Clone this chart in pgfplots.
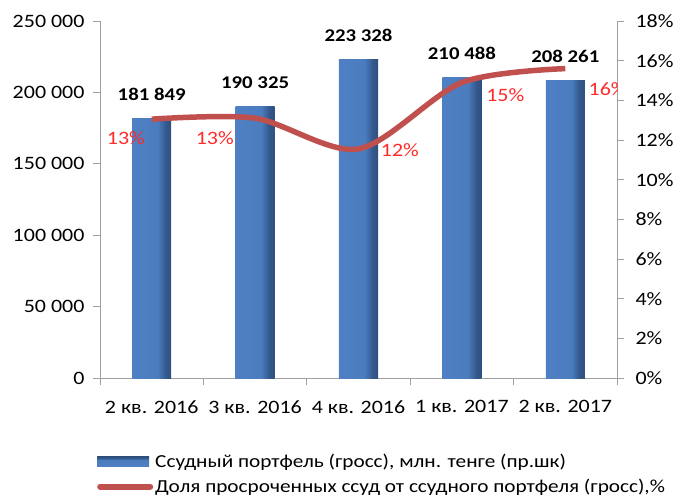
\documentclass[border=0pt]{standalone}
\usepackage{pgfplots}
\pgfplotsset{compat=1.18}
\usepackage{fontspec}
\setmainfont{Carlito}[FakeStretch=1.16]
\definecolor{linered}{HTML}{C0504D}
\definecolor{lblred}{HTML}{FF2A2A}
\definecolor{axgray}{HTML}{A0A0A0}
\pgfdeclarehorizontalshading{barshade}{100bp}{color(0bp)=(rgb,255:red,52;green,88;blue,140); color(8bp)=(rgb,255:red,80;green,130;blue,198); color(58bp)=(rgb,255:red,74;green,124;blue,190); color(68bp)=(rgb,255:red,52;green,88;blue,140); color(88bp)=(rgb,255:red,38;green,64;blue,106); color(100bp)=(rgb,255:red,24;green,40;blue,72)}
\pgfplotsset{
 barlegend/.style={legend image code/.code={\fill[shading=barshade, shading angle=90] (0bp,-5bp) rectangle (52bp,5bp);}},
 linelegend/.style={legend image code/.code={\draw[linered, line width=6bp, line cap=round] (3bp,0bp) -- (53bp,0bp);}},
 mybar/.style={ybar, bar width=39bp, bar shift=0pt, draw=none, shading=barshade,
  nodes near coords, point meta=explicit symbolic,
  every node near coord/.append style={font=\bfseries\fontsize{18}{21}\selectfont, text=black, yshift=14bp}},
 base/.style={
  at={(0,0)}, anchor=south west, scale only axis, width=517bp, height=357bp,
  xmin=-0.5, xmax=4.5,
  font=\fontsize{19}{22}\selectfont,
  /pgf/number format/assume math mode=true,
  /pgf/number format/fixed,
  /pgf/number format/1000 sep={\ },
  axis line style={draw=axgray, line width=0.8bp},
  tick style={draw=axgray, line width=0.8bp},
  tick align=outside, major tick length=7bp, minor tick length=7bp,
 },
}
\begin{document}
\begin{tikzpicture}
\begin{axis}[base,
  ymin=0, ymax=250000, ytick={0,50000,100000,150000,200000,250000},
  scaled y ticks=false,
  yticklabel style={/pgf/number format/fixed, /pgf/number format/1000 sep={\ }, xshift=-5bp},
  axis x line*=bottom, axis y line*=left,
  xtick={0,1,2,3,4}, xticklabels={2 кв. 2016,3 кв. 2016,4 кв. 2016,1 кв. 2017,2 кв. 2017},
  x tick style={draw=none},
  minor xtick={-0.5,0.5,1.5,2.5,3.5,4.5},
  minor x tick style={draw=axgray},
  xticklabel style={yshift=-12bp},
  legend style={at={(axis description cs:0,0)}, anchor=north west, yshift=-74bp, xshift=-3bp,
    draw=none, fill=none, inner sep=0pt, row sep=6bp,
    font=\fontsize{18.4}{21}\selectfont, nodes={inner xsep=2bp}},
  legend cell align=left,
]
\addplot[mybar, barlegend] coordinates {(0,181849) [181 849]};
\addlegendentry{Ссудный портфель (гросс), млн. тенге (пр.шк)}
\addplot[mybar, forget plot] coordinates {(1,190325) [190 325]};
\addplot[mybar, forget plot] coordinates {(2,223328) [223 328]};
\addplot[mybar, forget plot] coordinates {(3,210488) [210 488]};
\addplot[mybar, forget plot] coordinates {(4,208261) [208 261]};
\addlegendimage{linelegend}
\addlegendentry{Доля просроченных ссуд от ссудного портфеля (гросс),\%}
\end{axis}
\begin{axis}[base,
  ymin=0, ymax=18, ytick={0,2,...,18},
  axis y line*=right, axis x line=none,
  yticklabel={\pgfmathprintnumber{\tick}\%},
  yticklabel style={xshift=8bp},
]
\addplot[linered, line width=5.5bp, smooth, no markers]
  coordinates {(0,13.05) (1,13.1) (2,11.55) (3,14.9) (4,15.6)};
\begin{scope}[every node/.style={text=lblred, font=\fontsize{19}{22}\selectfont}]
\node at (axis cs:-0.25,12.1) {13\%};
\node at (axis cs:0.61,12.1) {13\%};
\node at (axis cs:2.40,11.5) {12\%};
\node at (axis cs:3.42,14.27) {15\%};
\node at (axis cs:4.41,14.57) {16\%};
\end{scope}
\end{axis}
\pgfresetboundingbox
\path (-100bp,-119bp) rectangle (577bp,378bp);
\end{tikzpicture}
\end{document}
